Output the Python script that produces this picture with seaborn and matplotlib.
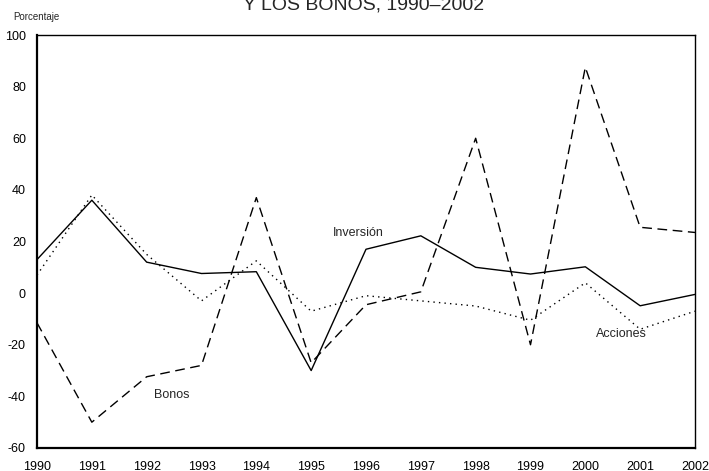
import matplotlib
matplotlib.use("Agg")
import matplotlib.pyplot as plt
import pandas as pd
import seaborn as sns

# Datos (porcentaje)
years = list(range(1990, 2003))
inversion = [13, 36, 12, 7.6, 8.3, -30, 17, 22.2, 10, 7.4, 10.2, -4.9, -0.5]
acciones = [7, 38, 15, -3, 12.5, -7, -1, -3, -5, -10.5, 4, -14, -7]
bonos = [-11.5, -50, -32.4, -28, 37, -27, -4.5, 0.5, 60, -20, 87.5, 25.5, 23.5]

series_names = ["Inversión", "Acciones", "Bonos"]
yticks = [-60, -40, -20, 0, 20, 40, 60, 80, 100]

df = pd.DataFrame({"year": years, "Inversión": inversion,
                   "Acciones": acciones, "Bonos": bonos})
long_df = df.melt(id_vars="year", var_name="serie", value_name="valor")

sns.set_style("white")
plt.rcParams["font.family"] = ["Liberation Sans", "DejaVu Sans"]
plt.rcParams["axes.unicode_minus"] = False

fig = plt.figure(figsize=(7.09, 4.71), dpi=100)
ax = fig.add_axes([37 / 709, 1 - 448 / 471, (695 - 37) / 709, (448 - 35) / 471])

sns.lineplot(data=long_df, x="year", y="valor", hue="serie", style="serie",
             hue_order=series_names, style_order=series_names,
             palette={"Inversión": "black", "Acciones": "black", "Bonos": "black"},
             dashes={"Inversión": "", "Acciones": (1, 3), "Bonos": (7, 4)},
             linewidth=1.0, legend=False, ax=ax)

ax.set_xlim(1990, 2002)
ax.set_ylim(-60, 100)
ax.set_xticks(years)
ax.set_xticklabels([str(y) for y in years])
ax.set_yticks(yticks)
ax.tick_params(length=0, labelsize=9, labelcolor="black")
ax.tick_params(axis="x", pad=9)
ax.tick_params(axis="y", pad=8)
ax.set_xlabel("")
ax.set_ylabel("")
for side in ["left", "bottom"]:
    ax.spines[side].set_linewidth(1.6)
for side in ["top", "right"]:
    ax.spines[side].set_linewidth(1.0)
for s in ax.spines.values():
    s.set_color("black")

ax.text(1995.86, 23.3, "Inversión", fontsize=9, ha="center", va="center")
ax.text(1992.45, -39.5, "Bonos", fontsize=9, ha="center", va="center")
ax.text(2000.66, -15.9, "Acciones", fontsize=9, ha="center", va="center")

fig.text(13 / 709, 1 - 17 / 471, "Porcentaje", fontsize=7, ha="left", va="center")
fig.text(364 / 709, 1 - 9 / 471, "Y LOS BONOS, 1990–2002", fontsize=14,
         ha="center", va="baseline")

fig.savefig("out.png", dpi=100)
